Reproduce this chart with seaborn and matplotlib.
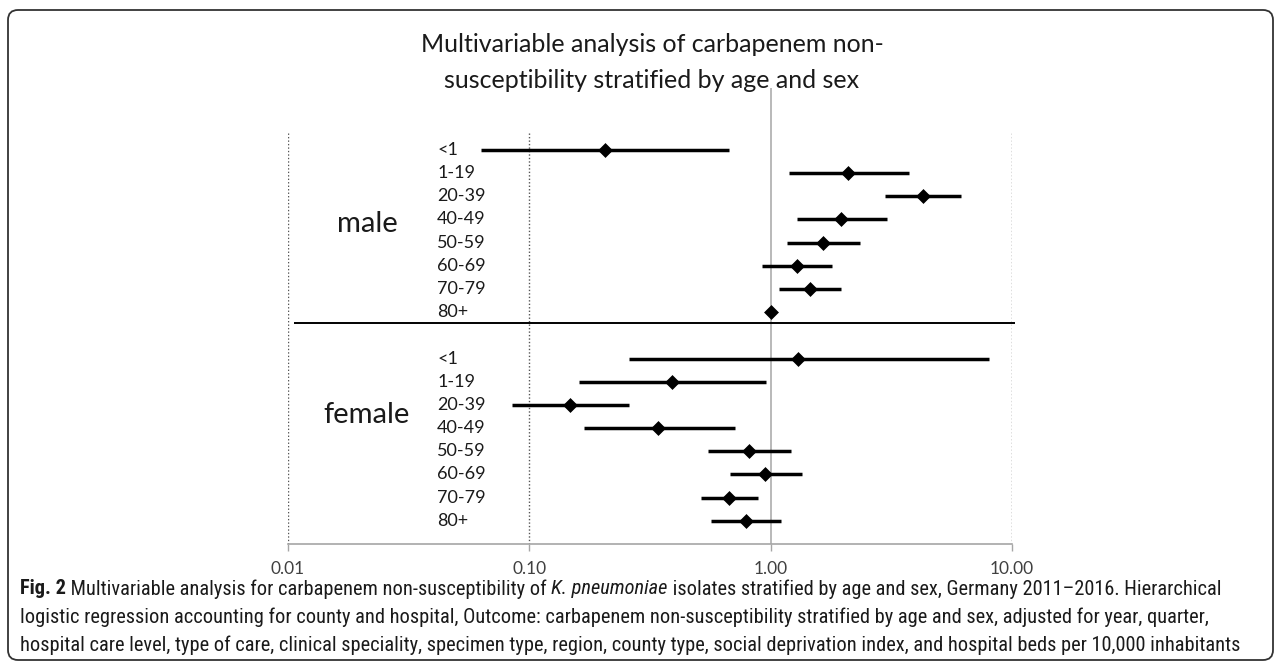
import matplotlib
matplotlib.use("Agg")
import matplotlib.pyplot as plt
from matplotlib import font_manager
from matplotlib.patches import FancyBboxPatch
import pandas as pd
import seaborn as sns

# values (odds ratio with 95% CI)
age_groups = ["<1", "1-19", "20-39", "40-49", "50-59", "60-69", "70-79", "80+"]
male_or = [0.205, 2.10, 4.28, 1.96, 1.65, 1.28, 1.45, 1.00]
male_lo = [0.063, 1.19, 2.97, 1.28, 1.17, 0.92, 1.08, 1.00]
male_hi = [0.67, 3.74, 6.17, 3.02, 2.35, 1.80, 1.96, 1.00]
female_or = [1.30, 0.39, 0.148, 0.34, 0.81, 0.95, 0.67, 0.79]
female_lo = [0.259, 0.160, 0.085, 0.168, 0.548, 0.68, 0.516, 0.564]
female_hi = [8.0, 0.96, 0.26, 0.71, 1.21, 1.35, 0.89, 1.10]
tick_values = [0.01, 0.1, 1, 10]
tick_labels = ["0.01", "0.10", "1.00", "10.00"]

title_lines = ["Multivariable analysis of carbapenem non-", "susceptibility stratified by age and sex"]
caption = [
    [("Fig. 2", "bold"), (" Multivariable analysis for carbapenem non-susceptibility of ", "normal"),
     ("K. pneumoniae", "italic"), (" isolates stratified by age and sex, Germany 2011\u20132016. Hierarchical", "normal")],
    [("logistic regression accounting for county and hospital, Outcome: carbapenem non-susceptibility "
      "stratified by age and sex, adjusted for year, quarter,", "normal")],
    [("hospital care level, type of care, clinical speciality, specimen type, region, county type, "
      "social deprivation index, and hospital beds per 10,000 inhabitants", "normal")],
]

male = pd.DataFrame({"age": age_groups, "or": male_or, "lo": male_lo, "hi": male_hi})
male["sex"] = "male"
male["row"] = range(8)
female = pd.DataFrame({"age": age_groups, "or": female_or, "lo": female_lo, "hi": female_hi})
female["sex"] = "female"
female["row"] = [9 + i for i in range(8)]
df = pd.concat([male, female], ignore_index=True)

sns.set_theme(style="white")
plt.rcParams["font.family"] = ["Lato", "DejaVu Sans"]

# a narrow face for the caption, if one is installed
installed = {f.name for f in font_manager.fontManager.ttflist}
cap_font, cap_stretch = "DejaVu Sans", "condensed"
for name in ["Roboto Condensed", "Liberation Sans Narrow", "Open Sans Condensed"]:
    if name in installed:
        cap_font, cap_stretch = name, "normal"
        break

W, H = 1281, 666
fig = plt.figure(figsize=(W / 100, H / 100), dpi=100)
ax = fig.add_axes([288 / W, 1 - 544 / H, 724 / W, 456 / H])
ax.set_xscale("log")
ax.set_xlim(0.01, 10)
ax.set_ylim(17, -2.67)

# reference line at 1 and dotted gridlines
ax.axvline(1, color="#b3b3b3", lw=1.3, zorder=1)
ax.vlines([0.01, 0.1, 10], -0.73, 17, colors="#555555", linestyles=(0, (1, 1.5)), lw=1, zorder=1)
# separator between the two sexes
ax.hlines(7.46, 0.0106, 10.27, color="black", lw=1.4, clip_on=False, zorder=2)

ax.hlines(df["row"], df["lo"], df["hi"], color="black", lw=2.5, zorder=3)
sns.scatterplot(data=df, x="or", y="row", marker="D", s=50, color="black",
                edgecolor="black", linewidth=0.5, ax=ax, zorder=4, legend=False)

for _, r in df.iterrows():
    ax.text(0.206, r["row"], r["age"], transform=ax.get_yaxis_transform(),
            ha="left", va="center", fontsize=13, color="#1a1a1a")
ax.text(0.109, 3.2, "male", transform=ax.get_yaxis_transform(), ha="center", va="center",
        fontsize=21, color="#1a1a1a")
ax.text(0.109, 11.45, "female", transform=ax.get_yaxis_transform(), ha="center", va="center",
        fontsize=21, color="#1a1a1a")

ax.set_xticks(tick_values, tick_labels)
ax.minorticks_off()
ax.set_yticks([])
ax.set_xlabel("")
ax.set_ylabel("")
for s in ["top", "left", "right"]:
    ax.spines[s].set_visible(False)
ax.spines["bottom"].set_color("#a6a6a6")
ax.spines["bottom"].set_linewidth(1.2)
ax.tick_params(axis="x", bottom=True, length=5, width=1, color="#a6a6a6", labelsize=12.5,
               labelcolor="#404040", pad=7)

for i, line in enumerate(title_lines):
    fig.text(652 / W, 1 - (45 + 35 * i) / H, line, ha="center", va="center", fontsize=18,
             color="#1a1a1a")

# caption with mixed styles, fitted to the panel width
renderer = fig.canvas.get_renderer()
probe = fig.text(0, 0, caption[2][0][0], family=cap_font, fontstretch=cap_stretch, fontsize=14)
cap_size = 14 * 1225 / probe.get_window_extent(renderer).width
probe.remove()
for i, line in enumerate(caption):
    x = 20
    y = H - (589 + 28 * i)
    for txt, style in line:
        t = fig.text(x / W, y / H, txt, family=cap_font, fontstretch=cap_stretch,
                     fontsize=cap_size, va="center",
                     fontweight="bold" if style == "bold" else "normal",
                     fontstyle="italic" if style == "italic" else "normal", color="#1a1a1a")
        x = t.get_window_extent(renderer).x1

border = FancyBboxPatch((0.08, 0.06), 12.65, 6.5, boxstyle="round,pad=0,rounding_size=0.1",
                        transform=fig.dpi_scale_trans, fill=False, ec="#333333", lw=1.3)
fig.patches.append(border)

fig.savefig("out.png", dpi=100)
